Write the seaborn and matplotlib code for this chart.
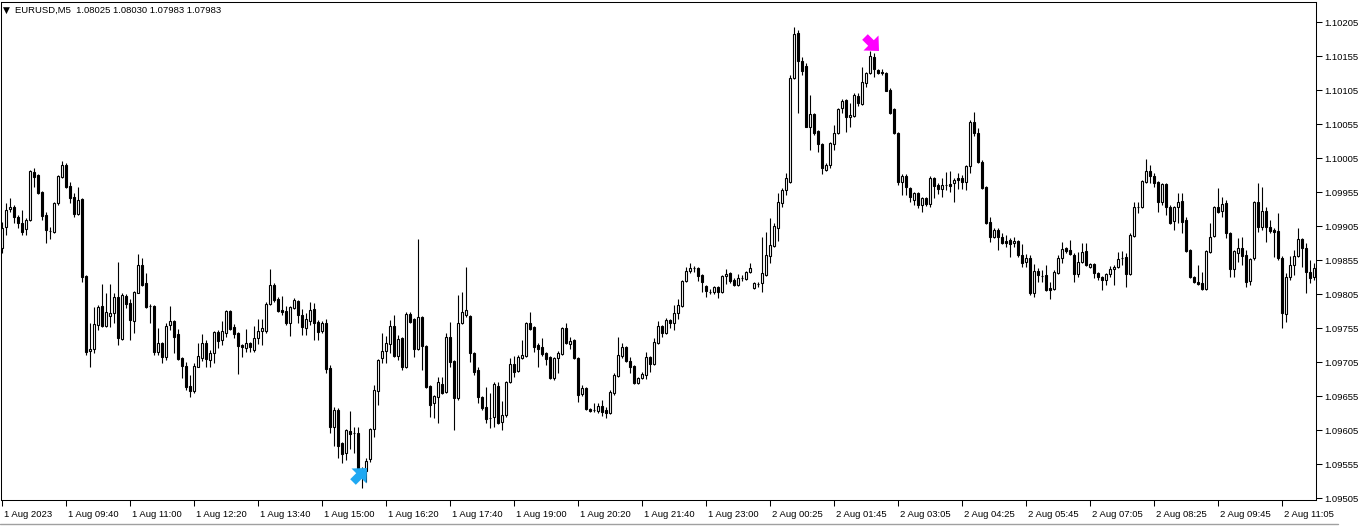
import numpy as np
import pandas as pd
import matplotlib
matplotlib.use("Agg")
import matplotlib.pyplot as plt
import matplotlib.transforms as mtransforms
from matplotlib.lines import Line2D
from matplotlib.path import Path
import seaborn as sns

# EURUSD M5 candles, prices in points (1e-5) above 1.00000
open_pts = [
    9873, 9904, 9930, 9933, 9918, 9909, 9901, 9914, 9984, 9980,
    9955, 9921, 9898, 9896, 9939, 9977, 9995, 9964, 9948, 9923,
    9945, 9832, 9721, 9724, 9759, 9787, 9758, 9773, 9777, 9801,
    9739, 9802, 9792, 9765, 9807, 9848, 9821, 9787, 9787, 9720,
    9733, 9712, 9759, 9765, 9746, 9711, 9699, 9670, 9662, 9698,
    9711, 9733, 9708, 9718, 9749, 9737, 9748, 9780, 9757, 9748,
    9730, 9726, 9733, 9723, 9740, 9751, 9751, 9790, 9818, 9798,
    9782, 9780, 9762, 9784, 9795, 9774, 9755, 9765, 9783, 9764,
    9751, 9762, 9696, 9609, 9634, 9586, 9571, 9604, 9601, 9601,
    9542, 9545, 9562, 9607, 9662, 9711, 9721, 9732, 9758, 9714,
    9740, 9698, 9776, 9768, 9724, 9771, 9729, 9670, 9645, 9654,
    9673, 9661, 9742, 9707, 9652, 9762, 9774, 9773, 9718, 9693,
    9654, 9639, 9623, 9624, 9670, 9617, 9627, 9676, 9702, 9692,
    9711, 9714, 9762, 9757, 9730, 9727, 9718, 9712, 9682, 9711,
    9717, 9755, 9732, 9737, 9711, 9658, 9667, 9636, 9634, 9633,
    9640, 9634, 9630, 9659, 9684, 9714, 9727, 9707, 9699, 9674,
    9682, 9686, 9712, 9702, 9733, 9758, 9748, 9767, 9762, 9777,
    9787, 9824, 9839, 9843, 9843, 9833, 9817, 9808, 9808, 9815,
    9808, 9832, 9836, 9826, 9818, 9829, 9827, 9837, 9814, 9820,
    9821, 9833, 9861, 9876, 9902, 9939, 9958, 9970, 10123, 10189,
    10148, 10140, 10051, 10070, 10045, 10026, 9987, 9995, 10026, 10042,
    10079, 10090, 10065, 10067, 10096, 10084, 10115, 10130, 10154, 10134,
    10131, 10130, 10105, 10077, 10042, 9970, 9979, 9961, 9943, 9954,
    9936, 9946, 9937, 9976, 9965, 9959, 9965, 9967, 9968, 9976,
    9976, 9970, 9993, 10058, 10042, 9999, 9962, 9911, 9889, 9899,
    9889, 9883, 9884, 9880, 9883, 9862, 9852, 9858, 9807, 9839,
    9832, 9833, 9814, 9812, 9836, 9858, 9873, 9870, 9862, 9835,
    9852, 9868, 9845, 9849, 9836, 9830, 9826, 9835, 9842, 9845,
    9858, 9859, 9835, 9890, 9933, 9933, 9970, 9986, 9979, 9970,
    9940, 9967, 9933, 9912, 9933, 9942, 9914, 9870, 9830, 9823,
    9821, 9812, 9867, 9890, 9933, 9927, 9939, 9895, 9842, 9865,
    9873, 9862, 9824, 9858, 9940, 9904, 9927, 9904, 9899, 9898,
    9858, 9776, 9830, 9848, 9861, 9886, 9873, 9837, 9830,
]
high_pts = [
    9911, 9939, 9946, 9936, 9921, 9929, 9917, 9987, 9990, 9982,
    9957, 9926, 9904, 9940, 9980, 10001, 9998, 9970, 9954, 9962,
    9946, 9833, 9762, 9786, 9789, 9820, 9807, 9820, 9807, 9852,
    9807, 9805, 9798, 9809, 9864, 9858, 9836, 9790, 9789, 9755,
    9734, 9762, 9787, 9767, 9754, 9712, 9705, 9686, 9704, 9733,
    9746, 9737, 9723, 9751, 9752, 9765, 9782, 9782, 9761, 9749,
    9732, 9754, 9734, 9758, 9768, 9768, 9793, 9842, 9821, 9801,
    9802, 9787, 9787, 9799, 9796, 9783, 9777, 9793, 9792, 9767,
    9765, 9768, 9701, 9639, 9637, 9587, 9607, 9633, 9609, 9609,
    9551, 9564, 9608, 9671, 9709, 9748, 9743, 9767, 9774, 9745,
    9742, 9779, 9779, 9770, 9886, 9773, 9730, 9671, 9656, 9683,
    9683, 9748, 9764, 9708, 9804, 9808, 9845, 9774, 9720, 9698,
    9655, 9668, 9659, 9676, 9676, 9648, 9677, 9711, 9714, 9715,
    9737, 9764, 9779, 9758, 9733, 9740, 9720, 9714, 9712, 9721,
    9757, 9762, 9742, 9739, 9712, 9671, 9668, 9637, 9645, 9645,
    9649, 9639, 9664, 9689, 9742, 9733, 9729, 9712, 9701, 9683,
    9690, 9720, 9714, 9740, 9765, 9759, 9770, 9768, 9789, 9798,
    9826, 9845, 9851, 9846, 9845, 9834, 9818, 9812, 9817, 9817,
    9833, 9842, 9837, 9829, 9834, 9833, 9839, 9851, 9823, 9823,
    9889, 9896, 9917, 9909, 9954, 9961, 9983, 10127, 10198, 10193,
    10154, 10145, 10098, 10071, 10046, 10027, 9998, 10029, 10054, 10079,
    10092, 10092, 10086, 10101, 10101, 10139, 10132, 10162, 10159, 10136,
    10136, 10132, 10108, 10079, 10043, 9982, 9982, 9962, 9955, 9955,
    9948, 9948, 9979, 9977, 9968, 9976, 9984, 9986, 9976, 9983,
    9980, 9995, 10061, 10073, 10049, 10002, 9964, 9918, 9902, 9902,
    9895, 9892, 9887, 9889, 9884, 9879, 9864, 9862, 9849, 9843,
    9840, 9848, 9823, 9840, 9862, 9881, 9874, 9884, 9865, 9867,
    9880, 9880, 9851, 9851, 9837, 9832, 9836, 9846, 9848, 9867,
    9868, 9865, 9895, 9940, 9940, 9973, 10004, 9995, 9983, 9971,
    9968, 9968, 9936, 9934, 9954, 9954, 9918, 9871, 9832, 9848,
    9837, 9870, 9909, 9934, 9961, 9948, 9943, 9896, 9870, 9887,
    9889, 9870, 9858, 9942, 9968, 9962, 9933, 9914, 9902, 9924,
    9861, 9836, 9861, 9870, 9902, 9887, 9880, 9855, 9851,
]
low_pts = [
    9865, 9892, 9926, 9909, 9902, 9892, 9892, 9912, 9962, 9952,
    9914, 9880, 9886, 9895, 9936, 9976, 9961, 9939, 9918, 9921,
    9823, 9715, 9698, 9718, 9752, 9757, 9757, 9757, 9762, 9730,
    9737, 9784, 9737, 9748, 9806, 9817, 9784, 9762, 9715, 9715,
    9704, 9708, 9752, 9718, 9708, 9682, 9664, 9654, 9659, 9697,
    9707, 9698, 9698, 9704, 9726, 9730, 9742, 9752, 9740, 9687,
    9712, 9720, 9720, 9720, 9732, 9730, 9748, 9789, 9793, 9779,
    9774, 9759, 9743, 9783, 9762, 9745, 9745, 9759, 9737, 9737,
    9748, 9689, 9601, 9582, 9564, 9557, 9561, 9577, 9571, 9542,
    9520, 9529, 9558, 9595, 9642, 9704, 9704, 9718, 9712, 9708,
    9693, 9696, 9762, 9712, 9723, 9693, 9667, 9624, 9623, 9615,
    9658, 9659, 9698, 9605, 9649, 9761, 9771, 9705, 9686, 9645,
    9634, 9615, 9608, 9609, 9614, 9605, 9624, 9674, 9683, 9690,
    9709, 9712, 9752, 9720, 9698, 9714, 9701, 9680, 9679, 9689,
    9715, 9732, 9724, 9709, 9646, 9655, 9634, 9632, 9632, 9630,
    9626, 9623, 9629, 9657, 9683, 9711, 9705, 9689, 9673, 9673,
    9680, 9680, 9690, 9701, 9732, 9742, 9746, 9755, 9752, 9768,
    9786, 9823, 9836, 9837, 9824, 9808, 9801, 9805, 9805, 9799,
    9807, 9820, 9821, 9817, 9817, 9824, 9826, 9836, 9812, 9815,
    9808, 9832, 9851, 9874, 9883, 9933, 9951, 9968, 10121, 10071,
    10127, 10050, 10017, 10039, 10014, 9982, 9986, 9990, 10017, 10040,
    10071, 10043, 10051, 10065, 10082, 10083, 10109, 10129, 10124, 10129,
    10127, 10103, 10070, 10040, 9965, 9951, 9951, 9940, 9936, 9932,
    9926, 9934, 9933, 9946, 9952, 9948, 9958, 9955, 9940, 9959,
    9959, 9958, 9983, 10037, 9998, 9959, 9908, 9881, 9887, 9870,
    9879, 9874, 9859, 9874, 9859, 9845, 9845, 9804, 9801, 9823,
    9823, 9809, 9798, 9811, 9835, 9851, 9865, 9862, 9823, 9830,
    9851, 9846, 9843, 9829, 9826, 9811, 9818, 9830, 9818, 9843,
    9848, 9815, 9833, 9889, 9924, 9931, 9968, 9968, 9962, 9926,
    9936, 9921, 9908, 9899, 9909, 9895, 9867, 9829, 9821, 9818,
    9811, 9811, 9865, 9889, 9924, 9918, 9887, 9830, 9830, 9852,
    9848, 9815, 9818, 9855, 9896, 9899, 9881, 9895, 9859, 9855,
    9755, 9764, 9826, 9833, 9859, 9845, 9807, 9821, 9826,
]
close_pts = [
    9902, 9929, 9933, 9918, 9909, 9896, 9914, 9986, 9977, 9954,
    9920, 9899, 9898, 9939, 9979, 9995, 9962, 9946, 9923, 9943,
    9830, 9720, 9724, 9761, 9786, 9758, 9779, 9777, 9801, 9740,
    9804, 9790, 9767, 9808, 9848, 9818, 9786, 9787, 9720, 9733,
    9712, 9758, 9765, 9742, 9709, 9699, 9668, 9662, 9699, 9714,
    9733, 9709, 9718, 9749, 9736, 9751, 9780, 9754, 9746, 9729,
    9727, 9733, 9727, 9740, 9751, 9755, 9790, 9818, 9796, 9780,
    9779, 9762, 9786, 9796, 9774, 9757, 9768, 9782, 9762, 9749,
    9762, 9695, 9609, 9634, 9582, 9570, 9605, 9599, 9601, 9546,
    9546, 9559, 9607, 9664, 9708, 9721, 9733, 9758, 9714, 9739,
    9698, 9776, 9764, 9724, 9771, 9729, 9668, 9642, 9655, 9676,
    9659, 9742, 9705, 9652, 9762, 9779, 9782, 9718, 9690, 9654,
    9637, 9621, 9623, 9673, 9615, 9627, 9676, 9702, 9690, 9712,
    9715, 9762, 9754, 9727, 9724, 9717, 9709, 9682, 9711, 9718,
    9755, 9733, 9736, 9711, 9657, 9667, 9636, 9633, 9634, 9640,
    9632, 9630, 9661, 9686, 9715, 9727, 9707, 9698, 9674, 9682,
    9687, 9712, 9702, 9734, 9758, 9748, 9767, 9762, 9777, 9789,
    9824, 9839, 9843, 9843, 9832, 9823, 9809, 9808, 9815, 9808,
    9832, 9835, 9824, 9818, 9829, 9829, 9837, 9843, 9821, 9820,
    9836, 9862, 9877, 9905, 9940, 9958, 9976, 10123, 10187, 10148,
    10133, 10051, 10070, 10042, 10026, 9990, 9995, 10027, 10042, 10077,
    10089, 10065, 10068, 10098, 10086, 10117, 10130, 10155, 10136, 10130,
    10130, 10104, 10071, 10042, 9970, 9979, 9962, 9948, 9954, 9936,
    9946, 9937, 9976, 9964, 9959, 9965, 9965, 9964, 9973, 9973,
    9970, 9993, 10058, 10042, 9999, 9961, 9909, 9889, 9899, 9889,
    9880, 9880, 9879, 9883, 9862, 9851, 9858, 9807, 9839, 9833,
    9832, 9811, 9811, 9837, 9858, 9871, 9868, 9864, 9835, 9852,
    9867, 9848, 9849, 9836, 9830, 9826, 9835, 9842, 9845, 9857,
    9858, 9835, 9892, 9933, 9933, 9971, 9986, 9979, 9968, 9940,
    9967, 9933, 9909, 9933, 9940, 9911, 9868, 9830, 9823, 9820,
    9812, 9868, 9889, 9933, 9926, 9937, 9895, 9842, 9868, 9873,
    9861, 9823, 9857, 9940, 9904, 9927, 9904, 9898, 9896, 9858,
    9777, 9830, 9848, 9861, 9886, 9873, 9837, 9829, 9843,
]

x_tick_bars = [0, 16, 32, 48, 64, 80, 96, 112, 128, 144, 160,
               176, 192, 208, 224, 240, 256, 272, 288, 304, 320]
x_tick_labels = ["1 Aug 2023", "1 Aug 09:40", "1 Aug 11:00", "1 Aug 12:20",
                 "1 Aug 13:40", "1 Aug 15:00", "1 Aug 16:20", "1 Aug 17:40",
                 "1 Aug 19:00", "1 Aug 20:20", "1 Aug 21:40", "1 Aug 23:00",
                 "2 Aug 00:25", "2 Aug 01:45", "2 Aug 03:05", "2 Aug 04:25",
                 "2 Aug 05:45", "2 Aug 07:05", "2 Aug 08:25", "2 Aug 09:45",
                 "2 Aug 11:05"]
y_ticks = [1.09505, 1.09555, 1.09605, 1.09655, 1.09705, 1.09755, 1.09805,
           1.09855, 1.09905, 1.09955, 1.10005, 1.10055, 1.10105, 1.10155,
           1.10205]
header = "EURUSD,M5  1.08025 1.08030 1.07983 1.07983"
buy_arrow = (89, 1.09537)    # (bar, price)
sell_arrow = (217.0, 1.10176)

df = pd.DataFrame({
    "open": 1 + np.array(open_pts) / 1e5,
    "high": 1 + np.array(high_pts) / 1e5,
    "low": 1 + np.array(low_pts) / 1e5,
    "close": 1 + np.array(close_pts) / 1e5,
})
df["bar"] = np.arange(len(df))

sns.set_theme(style="white")
plt.rcParams['font.family'] = ['Liberation Sans', 'DejaVu Sans']
plt.rcParams['axes.edgecolor'] = 'black'
plt.rcParams['axes.linewidth'] = 0.75

W, H = 1363, 530
fig = plt.figure(figsize=(W / 100, H / 100), dpi=100)
fig.patch.set_facecolor('white')
ax = fig.add_axes([0.5 / W, (H - 500) / H, 1315.5 / W, 498 / H])
ax.set_facecolor('white')

# wicks
ax.vlines(df["bar"], df["low"], df["high"], color="black", linewidth=0.8)
up = df["close"] >= df["open"]
body_lo = np.minimum(df["open"], df["close"])
body_h = (df["close"] - df["open"]).abs()
ax.bar(df["bar"][up], body_h[up], bottom=body_lo[up], width=0.5,
       color="white", edgecolor="black", linewidth=0.8, zorder=3)
ax.bar(df["bar"][~up], body_h[~up], bottom=body_lo[~up], width=0.5,
       color="black", edgecolor="black", linewidth=0.8, zorder=3)


# thick arrow marker (wingdings-like), pointing right, then rotated
def arrow_marker(angle_deg):
    base = np.array([[-0.55, -0.28], [0.05, -0.28], [0.05, -0.75],
                     [0.85, 0.0], [0.05, 0.75], [0.05, 0.28],
                     [-0.55, 0.28], [-0.55, -0.28]])
    a = np.deg2rad(angle_deg)
    rot = np.array([[np.cos(a), -np.sin(a)], [np.sin(a), np.cos(a)]])
    v = base @ rot.T
    codes = [Path.MOVETO] + [Path.LINETO] * 6 + [Path.CLOSEPOLY]
    return Path(v, codes)


ax.scatter([buy_arrow[0]], [buy_arrow[1]], marker=arrow_marker(45), s=150,
           color="#1FA8F2", linewidths=0, zorder=5)
ax.scatter([sell_arrow[0]], [sell_arrow[1]], marker=arrow_marker(-45), s=150,
           color="#FF00FF", linewidths=0, zorder=5)

ax.set_xlim(-0.375, 328.5)
ax.set_ylim(1.095021, 1.102345)

ax.yaxis.tick_right()
ax.set_yticks(y_ticks)
ax.set_yticklabels([f"{v:.5f}" for v in y_ticks])
ax.tick_params(axis="y", direction="out", length=4, width=0.75, pad=2,
               labelsize=6.8, colors="black", right=True, left=False)
ax.set_xticks(x_tick_bars)
ax.set_xticklabels(x_tick_labels)
ax.tick_params(axis="x", direction="out", length=4, width=0.75, pad=3,
               labelsize=6.8, colors="black", bottom=True)
offset = mtransforms.ScaledTranslation(2 / 100, 0, fig.dpi_scale_trans)
for lbl in ax.get_xticklabels():
    lbl.set_horizontalalignment("left")
    lbl.set_transform(lbl.get_transform() + offset)
for s in ax.spines.values():
    s.set_color("black")
    s.set_linewidth(0.75)
ax.grid(False)

# header text
fig.text(3 / W, 1 - 10 / H, "\u25BC", ha="left", va="center", fontsize=6.5,
         color="black", family=["DejaVu Sans"])
fig.text(15 / W, 1 - 10 / H, header, ha="left", va="center", fontsize=6.8,
         color="black")

# bottom tab strip
fig.add_artist(Line2D([0, 1338 / W], [1 - 524 / H, 1 - 524 / H],
                      color="#a0a0a0", linewidth=1))

fig.savefig("out.png", dpi=100, facecolor="white")
